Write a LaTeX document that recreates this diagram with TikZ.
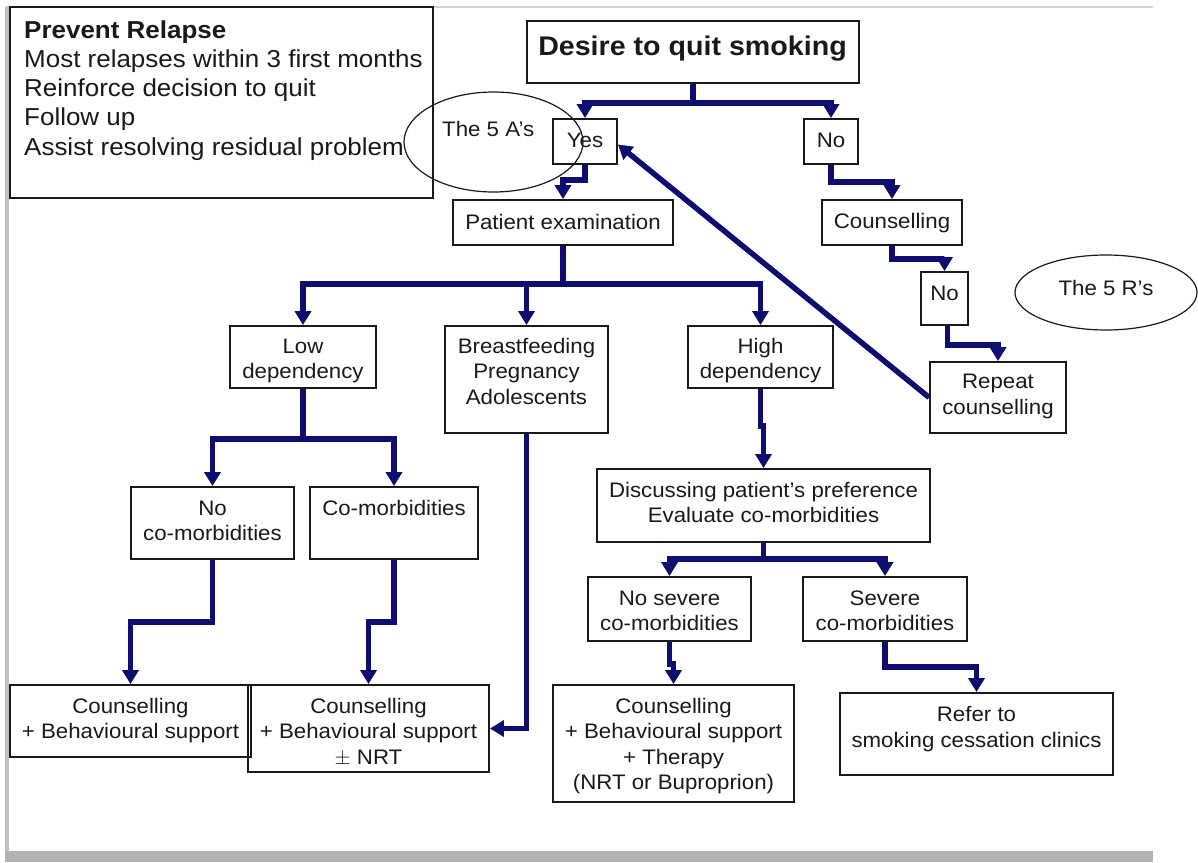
\documentclass[tikz,border=0pt]{standalone}
\usepackage{fontspec}
\setmainfont{Liberation Sans}[FakeStretch=1.06]
\usetikzlibrary{arrows.meta,fit,shapes.geometric}
\definecolor{flow}{RGB}{14,14,112}
\definecolor{ink}{RGB}{25,25,25}

\begin{document}
\begin{tikzpicture}[x=1pt,y=-1pt,
  box/.style={draw=ink, line width=1.8pt, inner sep=0pt, fit={#1}},
  % multi-line texts are placed by the baseline of their last line
  txt/.style={anchor=base, align=center, text=ink, inner sep=0pt,
    font=\fontsize{21}{25.5}\selectfont},
  link/.style={draw=flow, line width=5.5pt},
  arr/.style={link, -{Triangle[width=16pt,length=14pt]}},
  oval/.style={draw=ink, line width=1.2pt, ellipse, inner sep=0pt}
]
\useasboundingbox (0,0) rectangle (1198,862);

% page frame
\draw[black!18, line width=1.5pt] (5,7) -- (1153,7);
\draw[black!25, line width=4pt] (7,7) -- (7,851);
\fill[black!30] (5,851) rectangle (1153,862);

% boxes
\node[box={(10,7) (433,198)}] (prevent) {};
\node[box={(527,21) (859,83)}] (desire) {};
\node[box={(553,119) (617,164)}] (yes) {};
\node[box={(804,119) (858,164)}] (no) {};
\node[box={(453,200) (673,245)}] (pat) {};
\node[box={(822,200) (962,245)}] (couns) {};
\node[box={(921,272) (968,325)}] (no2) {};
\node[box={(930,362) (1066,433)}] (rep) {};
\node[box={(230,326) (376,388)}] (low) {};
\node[box={(445,326) (608,433)}] (breast) {};
\node[box={(688,326) (833,388)}] (high) {};
\node[box={(597,469) (930,542)}] (disc) {};
\node[box={(588,577) (751,641)}] (nosev) {};
\node[box={(803,577) (967,641)}] (sev) {};
\node[box={(553,685) (794,802)}] (ther) {};
\node[box={(840,693) (1113,775)}] (refer) {};
\node[box={(131,487) (294,559)}] (noco) {};
\node[box={(310,487) (478,559)}] (como) {};
\node[box={(10,685) (251,757)}] (cl) {};
\node[box={(248,685) (489,772)}] (cm) {};

% ovals
\node[oval, minimum width=179pt, minimum height=100pt] (fiveA) at (493.5,142) {};
\node[oval, minimum width=182pt, minimum height=75pt] (fiveR) at (1106,292.5) {};

% texts
\node[anchor=base west, align=left, text=ink, inner sep=0pt,
  font=\fontsize{24.5}{29.2}\selectfont] (prevent-t) at (24,155)
  {\textbf{Prevent Relapse}\\Most relapses within 3 first months\\Reinforce decision to quit\\Follow up\\Assist resolving residual problem};
\node[txt, font=\fontsize{27}{30}\selectfont\bfseries] (desire-t) at (692.5,55) {Desire to quit smoking};
\node[txt, anchor=base west] (fiveA-t) at (442,136) {The 5 A's};
\node[txt] (yes-t) at (585,147) {Yes};
\node[txt] (no-t) at (831,147) {No};
\node[txt] (pat-t) at (563,229) {Patient examination};
\node[txt] (couns-t) at (892,228) {Counselling};
\node[txt] (no2-t) at (944.5,300) {No};
\node[txt] (fiveR-t) at (1106,295) {The 5 R's};
\node[txt] (rep-t) at (998,414) {Repeat\\counselling};
\node[txt] (low-t) at (303,378.5) {Low\\dependency};
\node[txt] (breast-t) at (526.5,404) {Breastfeeding\\Pregnancy\\Adolescents};
\node[txt] (high-t) at (760.5,378.5) {High\\dependency};
\node[txt] (disc-t) at (763.5,522.5) {Discussing patient's preference\\Evaluate co-morbidities};
\node[txt] (nosev-t) at (669.5,630.5) {No severe\\co-morbidities};
\node[txt] (sev-t) at (885,630.5) {Severe\\co-morbidities};
\node[txt] (ther-t) at (673.5,789.5) {Counselling\\+ Behavioural support\\+ Therapy\\(NRT or Buproprion)};
\node[txt] (refer-t) at (976.5,747) {Refer to\\smoking cessation clinics};
\node[txt] (noco-t) at (212.5,540.5) {No\\co-morbidities};
\node[txt] (como-t) at (394,515) {Co-morbidities};
\node[txt] (cl-t) at (130.5,738.5) {Counselling\\+ Behavioural support};
\node[txt] (cm-t) at (368.5,764) {Counselling\\+ Behavioural support\\$\pm$ NRT};

% connectors
\draw[link] (desire.south) -- ++(0,19) coordinate (s1);
\draw[arr] (s1) -| (yes.north);
\draw[arr] (s1) -| (no.north);
\draw[arr] (yes.south) -- ++(0,15) -| (pat.north);
\draw[arr] (no.south) -- ++(0,17) -| (couns.north);
\draw[arr] (couns.south) -- ++(0,13) -| (no2.north);
\draw[arr] ([xshift=3pt]no2.south) -- ++(0,19) -| (rep.north);
\draw[arr] (rep.west) -- ([yshift=-3pt]yes.east);

\draw[link] (pat.south) -- ++(0,38) coordinate (s2);
\draw[arr] (s2) -| (low.north);
\draw[arr] (s2) -| (breast.north);
\draw[arr] (s2) -| (high.north);

\draw[arr] (high.south) -- ++(0,37) -| (disc.north);
\draw[link] (disc.south) -- ++(0,16) coordinate (s3);
\draw[arr] (s3) -| (nosev.north);
\draw[arr] (s3) -| (sev.north);
\draw[arr] (nosev.south) -- ++(0,22) -| (ther.north);
\draw[arr] (sev.south) -- ++(0,25) -| (refer.north);

\draw[link] (low.south) -- ++(0,50) coordinate (s4);
\draw[arr] (s4) -| (noco.north);
\draw[arr] (s4) -| (como.north);
\draw[arr] (noco.south) -- ++(0,62) -| (cl.north);
\draw[arr] (como.south) -- ++(0,62) -| (cm.north);
\draw[arr] (breast.south) |- (cm.east);
\end{tikzpicture}
\end{document}
